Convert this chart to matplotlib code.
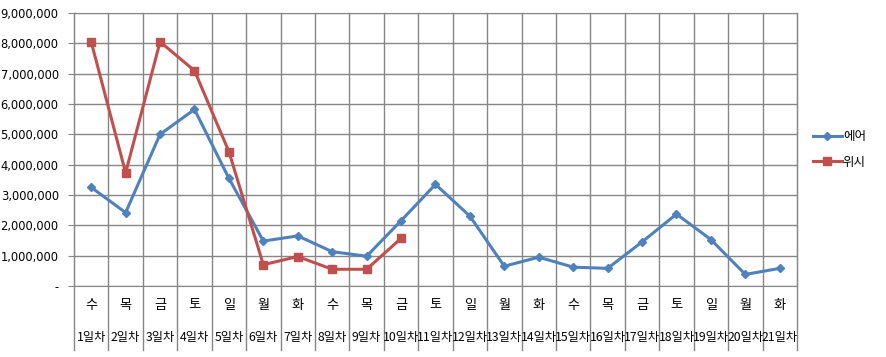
import matplotlib
matplotlib.use("Agg")
import matplotlib.pyplot as plt
import matplotlib.transforms as mtransforms
from matplotlib.ticker import FuncFormatter, MultipleLocator

plt.rcParams['font.family'] = ['Noto Sans CJK KR', 'DejaVu Sans']

weekdays = ['수', '목', '금', '토', '일', '월', '화', '수', '목', '금', '토',
            '일', '월', '화', '수', '목', '금', '토', '일', '월', '화']
day_labels = ['%d일차' % (i + 1) for i in range(21)]

air = [3250000, 2420000, 5000000, 5820000, 3550000, 1480000, 1650000,
       1130000, 980000, 2150000, 3350000, 2300000, 650000, 950000,
       620000, 580000, 1450000, 2370000, 1530000, 380000, 580000]
wish = [8050000, 3730000, 8050000, 7100000, 4430000, 700000, 970000,
        550000, 550000, 1570000]

grid_c = '#868686'

fig = plt.figure(figsize=(8.86, 3.57), dpi=100)
ax = fig.add_axes([0.0835, 0.199, 0.816, 0.7646])

x_air = list(range(len(air)))
x_wish = list(range(len(wish)))
l1, = ax.plot(x_air, air, color='#4F81BD', lw=2.2, marker='D', ms=4.5,
              label='에어', zorder=3)
l2, = ax.plot(x_wish, wish, color='#C0504D', lw=2.2, marker='s', ms=6,
              label='위시', zorder=4)

ax.set_xlim(-0.5, len(air) - 0.5)
ax.set_ylim(0, 9000000)
ax.yaxis.set_major_locator(MultipleLocator(1000000))
ax.yaxis.set_major_formatter(FuncFormatter(
    lambda v, p: '-' if v == 0 else format(int(v), ',')))
ax.tick_params(axis='y', labelsize=8.3, length=4, color=grid_c, pad=7)
for t in ax.get_yticklabels():
    t.set_family('DejaVu Sans')
ax.set_xticks([])
ax.grid(axis='y', color=grid_c, lw=1)
for s in ax.spines.values():
    s.set_color(grid_c)

# category boundaries extend down through the label area
for b in range(len(air) + 1):
    ax.axvline(b - 0.5, ymin=-0.235, ymax=1, color=grid_c, lw=1,
               clip_on=False, zorder=1)

trans = mtransforms.blended_transform_factory(ax.transData, ax.transAxes)
for i, (w, d) in enumerate(zip(weekdays, day_labels)):
    ax.text(i, -0.07, w, transform=trans, ha='center', va='center',
            fontsize=9.5)
    ax.text(i, -0.187, d, transform=trans, ha='center', va='center',
            fontsize=8.8)

ax.legend(handles=[l1, l2], loc='center left', bbox_to_anchor=(1.01, 0.5),
          frameon=False, fontsize=9, handlelength=2.3, labelspacing=1.0,
          borderaxespad=0.3, handletextpad=0.1)

fig.savefig('out.png', dpi=100)
